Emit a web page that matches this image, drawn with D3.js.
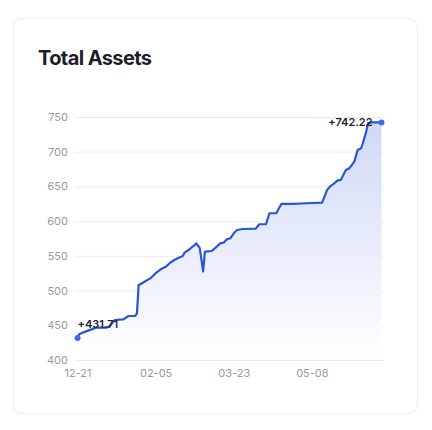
<!DOCTYPE html>
<html>
<head>
<meta charset="utf-8">
<script src="https://cdn.jsdelivr.net/npm/d3@7"></script>
<style>
  html, body { margin: 0; padding: 0; background: #ffffff; }
  #chart { width: 432px; height: 430px; }
</style>
</head>
<body>
<div id="chart"></div>
<script>
// values (date, total assets)
const DATES = ["2024-12-21","2024-12-22","2024-12-24","2024-12-28","2025-01-01","2025-01-07","2025-01-09",
               "2025-01-11","2025-01-12","2025-01-17","2025-01-20","2025-01-24","2025-01-25","2025-01-26",
               "2025-01-28","2025-01-31","2025-02-02","2025-02-05","2025-02-08","2025-02-11","2025-02-14",
               "2025-02-16","2025-02-18","2025-02-21","2025-02-22","2025-02-25","2025-02-28","2025-03-01",
               "2025-03-03","2025-03-05","2025-03-06","2025-03-10","2025-03-12","2025-03-15","2025-03-17",
               "2025-03-19","2025-03-21","2025-03-23","2025-03-25","2025-03-28","2025-04-05","2025-04-07",
               "2025-04-11","2025-04-13","2025-04-17","2025-04-20","2025-04-27","2025-05-05","2025-05-14",
               "2025-05-17","2025-05-19","2025-05-20","2025-05-23","2025-05-25","2025-05-28","2025-05-30",
               "2025-06-02","2025-06-04","2025-06-06","2025-06-07","2025-06-09","2025-06-10","2025-06-12",
               "2025-06-18"];
const VALUES = [431.71, 437, 439.4, 443, 446.5, 446.5, 449,
                455, 457.6, 458.6, 463.4, 463.4, 467, 508,
                510.5, 515, 517.7, 525, 530.6, 534.4, 540.8,
                544, 546.5, 549.9, 554.6, 559.5, 565.7, 568,
                561, 527.5, 556, 557, 561, 568, 569,
                574, 575.3, 582.5, 587.3, 588.7, 589.2, 595.5,
                595.5, 611.4, 611.4, 624.8, 624.8, 625.8, 626.7,
                645, 650.7, 652, 658.4, 659.4, 673.8, 676,
                685.7, 702.6, 705, 712.2, 729, 741, 742.22,
                742.22];
const X_TICKS = ["2024-12-21", "2025-02-05", "2025-03-23", "2025-05-08"];
const Y_TICKS = [400, 450, 500, 550, 600, 650, 700, 750];
const TITLE = "Total Assets";

const W = 432, H = 430;
const FONT = "Inter, 'Noto Sans', sans-serif";
const parse = d3.timeParse("%Y-%m-%d");
const data = DATES.map((d, i) => ({date: parse(d), value: VALUES[i]}));

const svg = d3.select("#chart")
    .append("svg")
        .attr("width", W)
        .attr("height", H)
        .attr("viewBox", `0 0 ${W} ${H}`);

// card
svg.append("rect")
    .attr("x", 13.5).attr("y", 18.5)
    .attr("width", 404).attr("height", 395)
    .attr("rx", 9)
    .style("fill", "#ffffff")
    .style("stroke", "#ededf0")
    .style("stroke-width", 1);

svg.append("text")
    .attr("x", 38).attr("y", 64.5)
    .text(TITLE)
    .style("font-family", FONT)
    .style("font-weight", 700)
    .style("font-size", "20px")
    .style("letter-spacing", "-0.6px")
    .style("fill", "#1c1f2a");

const x = d3.scaleTime()
    .domain([parse(DATES[0]), parse(DATES[DATES.length - 1])])
    .range([77.5, 381.5]);

const y = d3.scaleLinear()
    .domain([400, 750])
    .range([360, 117]);

// grid lines
svg.append("g")
    .selectAll("line")
    .data(Y_TICKS)
    .enter()
    .append("line")
        .attr("x1", 75).attr("x2", 384)
        .attr("y1", d => y(d) + 0.5).attr("y2", d => y(d) + 0.5)
        .style("stroke", "#ececf0")
        .style("stroke-width", 1);

const yAxis = svg.append("g")
    .attr("transform", "translate(68,0)")
    .call(d3.axisLeft(y).tickValues(Y_TICKS).tickSize(0).tickPadding(0));
yAxis.select(".domain").remove();
yAxis.selectAll("text")
    .style("font-family", FONT)
    .style("font-size", "11px")
    .style("fill", "#9a9aa0");

const xAxis = svg.append("g")
    .attr("transform", "translate(0,369)")
    .call(d3.axisBottom(x).tickValues(X_TICKS.map(parse)).tickFormat(d3.timeFormat("%m-%d")).tickSize(0).tickPadding(0));
xAxis.select(".domain").remove();
xAxis.selectAll("text")
    .style("font-family", FONT)
    .style("font-size", "11px")
    .style("fill", "#9a9aa0");

// gradient under the line
const defs = svg.append("defs");
const grad = defs.append("linearGradient")
    .attr("id", "areaFill")
    .attr("x1", 0).attr("y1", 0).attr("x2", 0).attr("y2", 1);
grad.append("stop").attr("offset", "0%").attr("stop-color", "#d0d9f6");
grad.append("stop").attr("offset", "100%").attr("stop-color", "#ffffff");

const area = d3.area()
    .x(d => x(d.date))
    .y0(y(400))
    .y1(d => y(d.value));

svg.append("path")
    .datum(data)
    .attr("d", area)
    .attr("fill", "url(#areaFill)");

const line = d3.line()
    .x(d => x(d.date))
    .y(d => y(d.value));

svg.append("path")
    .datum(data)
    .attr("d", line)
    .style("fill", "none")
    .style("stroke", "#2b56d2")
    .style("stroke-width", 2.2)
    .style("stroke-linejoin", "round");

// end points and their labels
const first = data[0], last = data[data.length - 1];

svg.selectAll("circle.end")
    .data([first, last])
    .enter()
    .append("circle")
        .attr("class", "end")
        .attr("cx", d => x(d.date))
        .attr("cy", d => y(d.value))
        .attr("r", 3)
        .style("fill", "#3a6cf0");

svg.append("text")
    .attr("x", x(first.date))
    .attr("y", y(first.value) - 10)
    .text("+" + first.value.toFixed(2))
    .style("font-family", FONT)
    .style("font-size", "11px")
    .style("font-weight", 600)
    .style("fill", "#1f2330");

svg.append("text")
    .attr("x", x(last.date) - 9)
    .attr("y", y(last.value) + 4)
    .attr("text-anchor", "end")
    .text("+" + last.value.toFixed(2))
    .style("font-family", FONT)
    .style("font-size", "11px")
    .style("font-weight", 600)
    .style("fill", "#1f2330");
</script>
</body>
</html>
